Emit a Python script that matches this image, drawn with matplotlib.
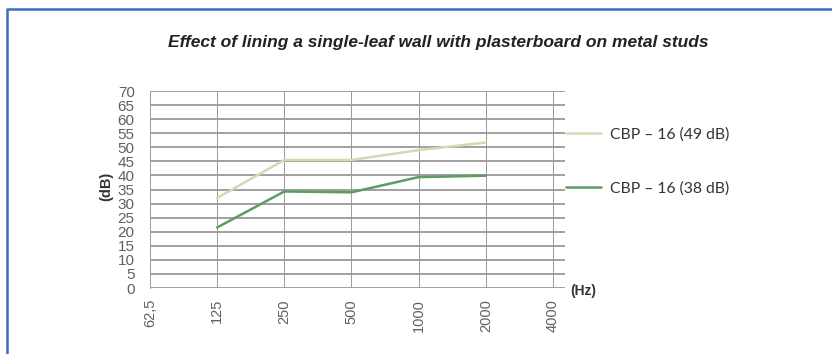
#import matplotlib and the Line2D artist for the frame
import matplotlib
matplotlib.use('Agg')
import matplotlib.pyplot as plt
from matplotlib.lines import Line2D

#chart data
freqs = [125, 250, 500, 1000, 2000]
cbp_49 = [32, 45.5, 45.5, 49, 51.7]
cbp_38 = [21.5, 34.3, 34, 39.4, 39.9]
series_names = ['CBP – 16 (49 dB)', 'CBP – 16 (38 dB)']
tick_freqs = [62.5, 125, 250, 500, 1000, 2000, 4000]
tick_labels = ['62,5', '125', '250', '500', '1000', '2000', '4000']
y_ticks = list(range(0, 75, 5))
title = 'Effect of lining a single-leaf wall with plasterboard on metal studs'

W, H = 832, 354
fig = plt.figure(figsize=(W/100, H/100), dpi=100)
fig.patch.set_facecolor('white')

#axes placed in pixels
ax = fig.add_axes([150/W, 1-288/H, (565-150)/W, (288-91)/H])
ax.set_xscale('log', base=2)
ax.set_xlim(62.5, 4530)
ax.set_ylim(0, 70)

ax.plot(freqs, cbp_49, color='#d9d6b4', lw=1.8, label=series_names[0], solid_capstyle='round')
ax.plot(freqs, cbp_38, color='#5e9c62', lw=1.8, label=series_names[1], solid_capstyle='round')

ax.set_xticks(tick_freqs)
ax.set_xticklabels(tick_labels, rotation=90, fontsize=10.5, color='#606060', family='Liberation Sans')
ax.minorticks_off()
ax.set_yticks(y_ticks)
ax.set_yticklabels([str(v) for v in y_ticks], fontsize=11, color='#606060', family='Liberation Sans')
ax.tick_params(axis='both', length=0)
ax.tick_params(axis='x', pad=8)
ax.tick_params(axis='y', pad=11)

#grid lines
for v in y_ticks:
    ax.axhline(v, color='#a0a0a0', lw=1.4, zorder=0)
for f in tick_freqs[1:]:
    ax.axvline(f, color='#9a9a9a', lw=0.7, zorder=0)
for s in ['top', 'right', 'bottom']:
    ax.spines[s].set_visible(False)
ax.spines['left'].set_color('#9a9a9a')
ax.spines['left'].set_linewidth(0.7)
ax.axvline(4530, color='#c8c8c8', lw=0.7, zorder=0)

#axis captions
fig.text(106/W, 1-186/H, '(dB)', rotation=90, ha='center', va='center', fontsize=10.5,
         fontweight='bold', color='#333333', family='Liberation Sans')
fig.text(570/W, 1-291/H, '(Hz)', ha='left', va='center', fontsize=10,
         fontweight='bold', color='#333333', family='Liberation Sans')
fig.text(438/W, 1-43/H, title, ha='center', va='center', fontsize=12.5,
         fontweight='bold', fontstyle='italic', color='#222222', family='Liberation Sans')

#legend at the right
leg = ax.legend(loc='upper left', bbox_to_anchor=(566/W, 1-127/H), bbox_transform=fig.transFigure,
                frameon=False, handlelength=2.2, handletextpad=0.6,
                labelspacing=2.55, borderpad=0, borderaxespad=0, prop={'family': 'Lato', 'size': 11.3})
for t in leg.get_texts():
    t.set_color('#333333')

#blue frame on top and left
fig.add_artist(Line2D([7/W, 7/W, 1], [0, 1-9/H, 1-9/H], transform=fig.transFigure,
                      color='#3a6cc3', lw=1.8))

fig.savefig('out.png', dpi=100)
